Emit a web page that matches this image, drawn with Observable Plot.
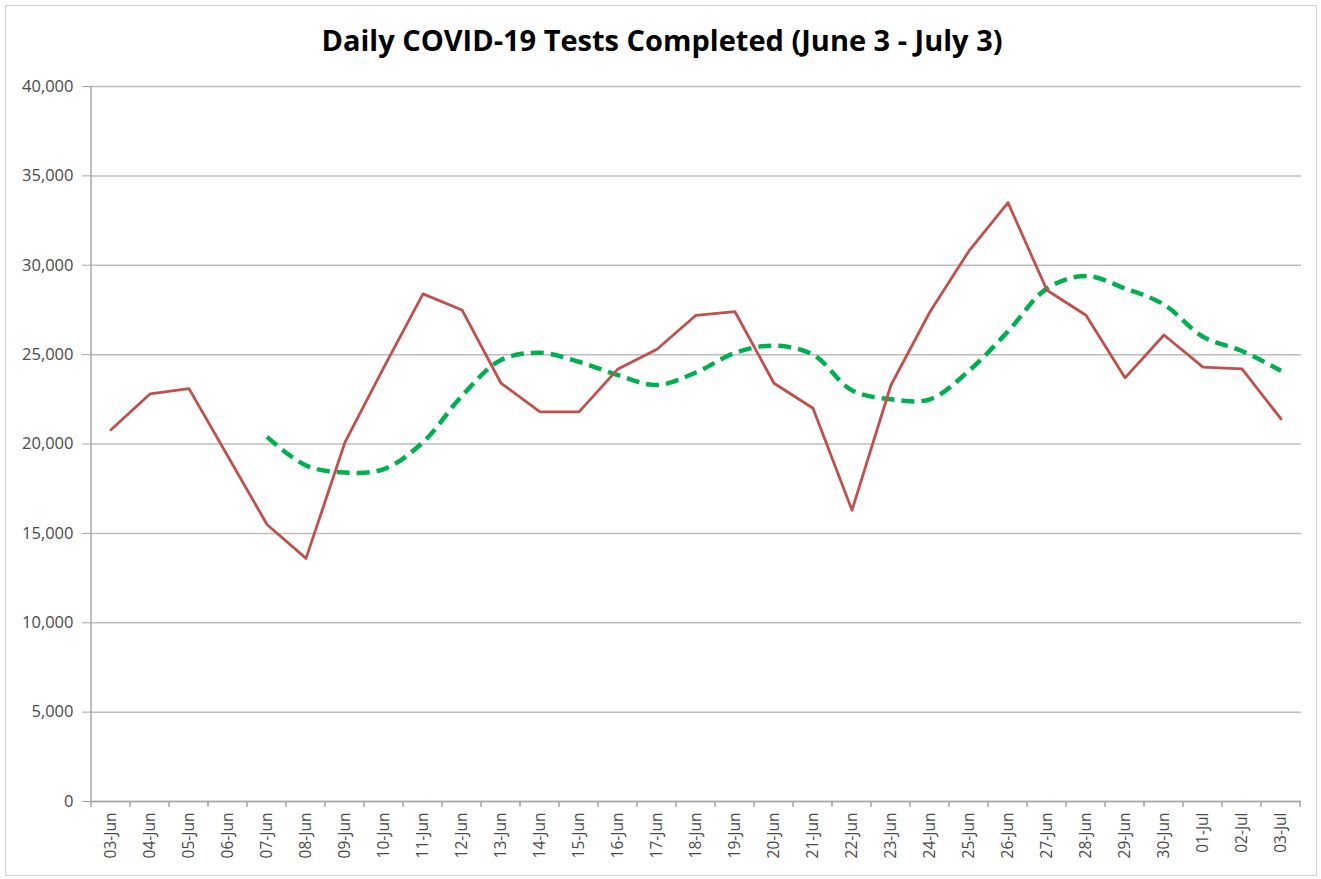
<!DOCTYPE html>
<html>
<head>
<meta charset="utf-8">
<script src="https://cdn.jsdelivr.net/npm/d3@7"></script>
<script src="https://cdn.jsdelivr.net/npm/@observablehq/plot@0.6"></script>
<style>
  html, body { margin: 0; padding: 0; background: #fff; }
  #wrap { position: relative; width: 1321px; height: 879px; }
  #border { position: absolute; left: 5px; top: 5px; width: 1312px; height: 871px; border: 1.5px solid #d0d0d0; box-sizing: border-box; pointer-events: none; }
  svg { display: block; }
</style>
</head>
<body>
<div id="wrap"><div id="border"></div></div>
<script>
const title = "Daily COVID-19 Tests Completed (June 3 - July 3)";
const dates = ["03-Jun","04-Jun","05-Jun","06-Jun","07-Jun","08-Jun","09-Jun","10-Jun","11-Jun","12-Jun",
  "13-Jun","14-Jun","15-Jun","16-Jun","17-Jun","18-Jun","19-Jun","20-Jun","21-Jun","22-Jun",
  "23-Jun","24-Jun","25-Jun","26-Jun","27-Jun","28-Jun","29-Jun","30-Jun","01-Jul","02-Jul","03-Jul"];
const dailyTests = [20800,22800,23100,19300,15500,13600,20100,24300,28400,27500,
  23400,21800,21800,24200,25300,27200,27400,23400,22000,16300,
  23300,27400,30800,33500,28600,27200,23700,26100,24300,24200,21400];
const rollingAvg = [null,null,null,null,20400,18800,18400,18600,20100,22700,
  24700,25100,24600,23850,23300,24000,25100,25500,25000,23000,
  22500,22500,24100,26300,28700,29400,28700,27800,26000,25200,24100];
const yTicks = [0,5000,10000,15000,20000,25000,30000,35000,40000];

const rows = dates.map((d, i) => ({date: d, daily: dailyTests[i], avg: rollingAvg[i]}));
const avgRows = rows.filter(r => r.avg != null);

const plot = Plot.plot({
  width: 1321,
  height: 879,
  marginLeft: 90,
  marginRight: 20,
  marginTop: 86,
  marginBottom: 78,
  style: {fontFamily: "'Open Sans', Lato, sans-serif", background: "transparent", overflow: "visible"},
  x: {type: "band", domain: dates, paddingInner: 0, paddingOuter: 0, label: null},
  y: {domain: [0, 40000], label: null},
  marks: [
    Plot.gridY(yTicks, {stroke: "#bdbdbd", strokeOpacity: 1, strokeWidth: 1.5}),
    Plot.axisY(yTicks, {tickSize: 8, tickPadding: 9, tickFormat: d3.format(","), fontSize: 16.5, color: "#4a4a4a", stroke: "#a6a6a6", label: null}),
    Plot.axisX({tickSize: 0, tickPadding: 11, tickRotate: -90, fontSize: 15.5, color: "#4a4a4a", label: null}),
    Plot.ruleY([0], {stroke: "#a6a6a6", strokeWidth: 1.5}),
    Plot.line(avgRows, {x: "date", y: "avg", stroke: "#00b050", strokeWidth: 4.5, strokeDasharray: "13 7", curve: "catmull-rom", strokeLinecap: "butt"}),
    Plot.line(rows, {x: "date", y: "daily", stroke: "#c0504d", strokeWidth: 2.8, curve: "linear"}),
    Plot.text([title], {text: d => d, frameAnchor: "top", lineAnchor: "middle", dx: -34, dy: -45, fontSize: 29, fontWeight: "bold", fill: "#000", letterSpacing: "2.4px"})
  ]
});

// category boundary ticks and left axis line, positioned from the plot's own scales
const xs = plot.scale("x");
const ys = plot.scale("y");
const svg = d3.select(plot);
const bounds = dates.map(d => xs.apply(d)).concat([xs.apply(dates[dates.length - 1]) + xs.bandwidth]);
const y0 = ys.apply(0);
const yTop = ys.apply(40000);
const g = svg.append("g").attr("stroke", "#a6a6a6").attr("stroke-width", 1.5);
g.selectAll("line.bt").data(bounds).join("line")
  .attr("x1", d => d).attr("x2", d => d).attr("y1", y0).attr("y2", y0 + 6);
g.append("line").attr("x1", bounds[0]).attr("x2", bounds[0]).attr("y1", yTop).attr("y2", y0);

document.getElementById("wrap").appendChild(plot);
</script>
</body>
</html>
